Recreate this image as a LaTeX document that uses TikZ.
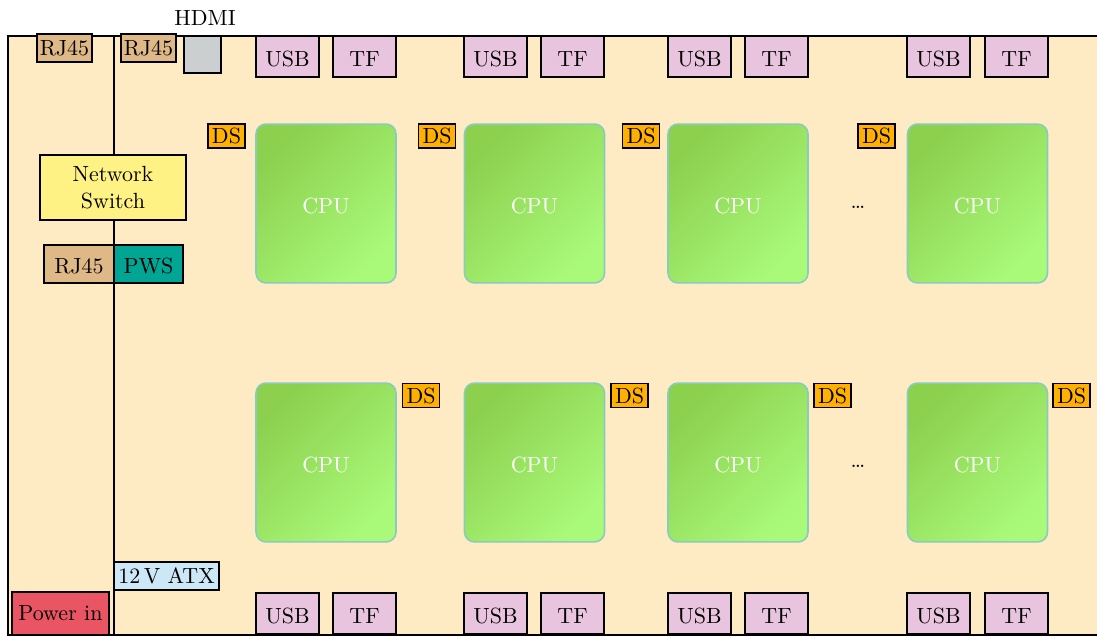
\documentclass[tikz,border=0pt]{standalone}
\usepackage{xcolor}
\definecolor{boardfill}{RGB}{254,235,196}
\definecolor{portpink}{RGB}{233,196,222}
\definecolor{rjtan}{RGB}{222,184,135}
\definecolor{hdmigrey}{RGB}{204,207,207}
\definecolor{dsorange}{RGB}{255,176,0}
\definecolor{switchyellow}{RGB}{255,242,132}
\definecolor{pwsteal}{RGB}{0,166,147}
\definecolor{atxblue}{RGB}{204,232,246}
\definecolor{powerred}{RGB}{234,85,100}
\definecolor{cpudark}{RGB}{140,208,78}
\definecolor{cpulight}{RGB}{170,250,122}
\definecolor{cpuedge}{RGB}{136,204,190}
\begin{document}
\begin{tikzpicture}[x=0.455pt,y=-0.455pt,
  every node/.style={font=\fontsize{10}{12}\selectfont},
  part/.style={draw=black,line width=0.6pt,inner sep=0pt,align=center},
  oneline/.style={text height=8.8pt,text depth=0pt},
  port/.style={part,oneline,fill=portpink,minimum width=28.7pt,minimum height=18.7pt},
  rjbox/.style={part,fill=rjtan},
  dsbox/.style={part,fill=dsorange,minimum width=16.8pt,minimum height=11pt},
  cpubox/.style={oneline,draw=cpuedge,line width=0.7pt,rounded corners=4.5pt,
    top color=cpudark,bottom color=cpulight,shading angle=45,
    minimum width=63.7pt,minimum height=72.3pt,text=white},
  divider/.style={draw=black,line width=0.6pt}]
\useasboundingbox (0,0) rectangle (1097,637);
\clip (0,0) rectangle (1097,637);

% board outline (continues past the right edge)
\draw[fill=boardfill,line width=0.6pt] (8,36) rectangle (1130,635);

% divider between the network side and the compute side
\coordinate (divtop) at (114,36);
\coordinate (divbot) at (114,635);
\draw[divider] (divtop) -- (divbot);

% edge connectors, top left
\node[rjbox,minimum width=25pt,minimum height=12.7pt] (rjA) at (64.5,48) {RJ45};
\node[rjbox,minimum width=25pt,minimum height=12.7pt] (rjB) at (148.5,48) {RJ45};
\node[part,fill=hdmigrey,minimum width=16.8pt,minimum height=16.8pt] (hdmi) at (202.5,54.5) {};
\node (hdmilabel) at (205,18) {HDMI};

% network switch and its ports
\node[part,fill=switchyellow,minimum width=66.4pt,minimum height=29.6pt] (switch) at (113,187.5) {Network\\Switch};
\node[rjbox,oneline,minimum width=31.9pt,minimum height=17.3pt] (rjC) at (79,264) {RJ45};
\node[part,oneline,fill=pwsteal,minimum width=31.4pt,minimum height=17.3pt] (pws) at (148.5,264) {PWS};

% power entry
\node[part,fill=atxblue,minimum width=47.8pt,minimum height=12.7pt] (atx) at (166.5,576) {12\,V~ATX};
\node[part,fill=powerred,minimum width=44pt,minimum height=19.6pt] (pwr) at (60.5,613.5) {Power in};

% compute modules: USB/TF ports, CPUs and DS sockets
\foreach \i/\x/\tx/\dsu/\dsl in {1/287.5/364.5/226.5/421, 2/495.5/572.5/437/629.5, 3/699.5/776.5/641/832.5, 4/938.5/1016.5/876.5/1071.5}{
  \node[port] (usbT\i) at (\x,56.5) {USB};
  \node[port] (tfT\i) at (\tx,56.5) {TF};
  \node[port] (usbB\i) at (\x,613.5) {USB};
  \node[port] (tfB\i) at (\tx,613.5) {TF};
  \node[dsbox] (dsT\i) at (\dsu,136) {DS};
  \node[dsbox] (dsB\i) at (\dsl,395.5) {DS};
}
\foreach \i/\x in {1/326, 2/534.5, 3/738, 4/977.5}{
  \node[cpubox] (cpuT\i) at (\x,203.5) {CPU};
  \node[cpubox] (cpuB\i) at (\x,462.5) {CPU};
}
\node (dotsT) at (858,207) {\dots};
\node (dotsB) at (858,466) {\dots};
\end{tikzpicture}
\end{document}
